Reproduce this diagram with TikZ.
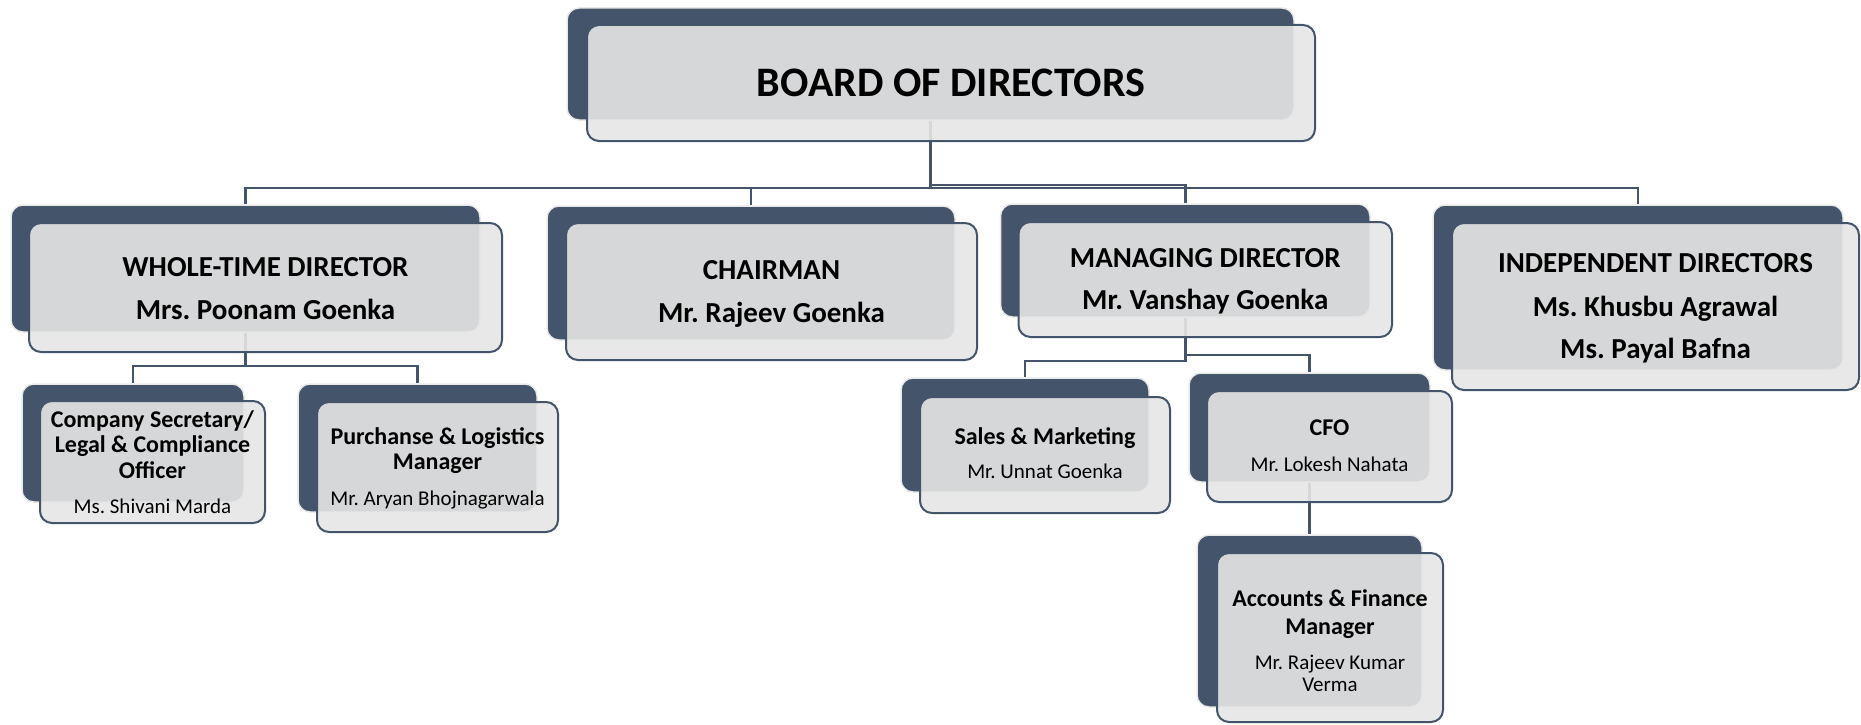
\documentclass[tikz,border=0pt]{standalone}
\usepackage{fontspec}
\setmainfont{Carlito}
\usetikzlibrary{fit}
\definecolor{dk}{HTML}{44546A}
\definecolor{fr}{HTML}{E6E6E6}
\definecolor{rim}{HTML}{E9E9E9}
\newcommand{\nm}[1]{{\fontsize{21}{25.5}\selectfont #1}}
\begin{document}
\frenchspacing
\begin{tikzpicture}[x=1pt,y=-1pt,
  darkbox/.style={fill=dk, draw=rim, line width=1.5pt, rounded corners=12pt, inner sep=0pt},
  frontbox/.style={fill=fr, fill opacity=0.9, draw=dk, line width=2pt,
    rounded corners=12pt, inner sep=0pt},
  txt/.style={align=center, inner sep=0pt, text=black},
  conn/.style={draw=dk, line width=2.5pt},
  topfont/.style={font=\fontsize{42}{50}\selectfont\bfseries},
  bigfont/.style={font=\fontsize{29}{43}\selectfont\bfseries},
  smallfont/.style={font=\fontsize{24}{25.5}\selectfont},
]
\useasboundingbox (0,0) rectangle (1861,725);

% back (dark) boxes
\node[darkbox, fit={(567,8) (1294,120)}] (bodD) {};
\node[darkbox, fit={(11,205) (480,332)}] (wtdD) {};
\node[darkbox, fit={(547,206) (955,340)}] (chD) {};
\node[darkbox, fit={(1000.5,204) (1370,317)}] (mdD) {};
\node[darkbox, fit={(1433,205) (1843,370)}] (idD) {};
\node[darkbox, fit={(22,384) (244,502)}] (csD) {};
\node[darkbox, fit={(298,384) (537,512)}] (plD) {};
\node[darkbox, fit={(901,378) (1149,492)}] (smD) {};
\node[darkbox, fit={(1189,373) (1430,482)}] (cfoD) {};
\node[darkbox, fit={(1197,535) (1422,707)}] (afD) {};

% connectors
\draw[conn] (bodD.south) |- (wtdD.north |- 0,188) -- (wtdD.north);
\draw[conn] (bodD.south) |- (chD.north |- 0,188) -- (chD.north);
\draw[conn] (bodD.south) |- (mdD.north |- 0,185) -- (mdD.north);
\draw[conn] (bodD.south) |- (idD.north |- 0,188) -- (idD.north);
\draw[conn] (wtdD.south) |- (csD.north |- 0,366) -- (csD.north);
\draw[conn] (wtdD.south) |- (plD.north |- 0,366) -- (plD.north);
\draw[conn] (mdD.south) |- (smD.north |- 0,361) -- (smD.north);
\draw[conn] (mdD.south) |- (cfoD.north |- 0,355) -- (cfoD.north);
\draw[conn] (cfoD.south) -- (afD.north);

% front boxes
\node[frontbox, fit={(587,25) (1315,141)}] (bodF) {};
\node[frontbox, fit={(29,223) (502,352)}] (wtdF) {};
\node[frontbox, fit={(566,223) (977,360)}] (chF) {};
\node[frontbox, fit={(1018.5,222) (1392,337)}] (mdF) {};
\node[frontbox, fit={(1452,223) (1859,390)}] (idF) {};
\node[frontbox, fit={(40,401) (265,523)}] (csF) {};
\node[frontbox, fit={(317,402) (558,532)}] (plF) {};
\node[frontbox, fit={(920,397) (1170,513)}] (smF) {};
\node[frontbox, fit={(1207,391) (1452,502)}] (cfoF) {};
\node[frontbox, fit={(1217,553) (1443,722)}] (afF) {};

% texts
\node[txt, topfont] (bodT) at (bodF.center) {BOARD OF DIRECTORS};
\node[txt, bigfont] (wtdT) at ([yshift=-1pt]wtdF.center) {WHOLE-TIME DIRECTOR\\Mrs. Poonam Goenka};
\node[txt, bigfont] (chT) at ([yshift=-2pt]chF.center) {CHAIRMAN\\Mr. Rajeev Goenka};
\node[txt, bigfont] (mdT) at ([yshift=-2pt]mdF.center) {MANAGING DIRECTOR\\[-1pt]Mr. Vanshay Goenka};
\node[txt, bigfont] (idT) at ([yshift=-2pt]idF.center) {INDEPENDENT DIRECTORS\\[1pt]Ms. Khusbu Agrawal\\[-1.5pt]Ms. Payal Bafna};
\node[txt, smallfont] (csT) at (csF.center) {\textbf{Company Secretary/}\\\textbf{Legal \& Compliance}\\\textbf{Officer}\\[9.5pt]\nm{Ms. Shivani Marda}};
\node[txt, smallfont] (plT) at ([yshift=-1pt]plF.center) {\textbf{Purchanse \& Logistics}\\\textbf{Manager}\\[10pt]\nm{Mr. Aryan Bhojnagarwala}};
\node[txt, smallfont] (smT) at ([yshift=2pt]smF.center) {\textbf{Sales \& Marketing}\\[8.5pt]\nm{Mr. Unnat Goenka}};
\node[txt, smallfont] (cfoT) at ([yshift=1pt]cfoF.center) {\textbf{CFO}\\[10pt]\nm{Mr. Lokesh Nahata}};
\node[txt, smallfont] (afT) at ([yshift=-3pt]afF.center) {\textbf{Accounts \& Finance}\\[3pt]\textbf{Manager}\\[9.5pt]\nm{Mr. Rajeev Kumar}\\[-3.5pt]\nm{Verma}};
\end{tikzpicture}
\end{document}
